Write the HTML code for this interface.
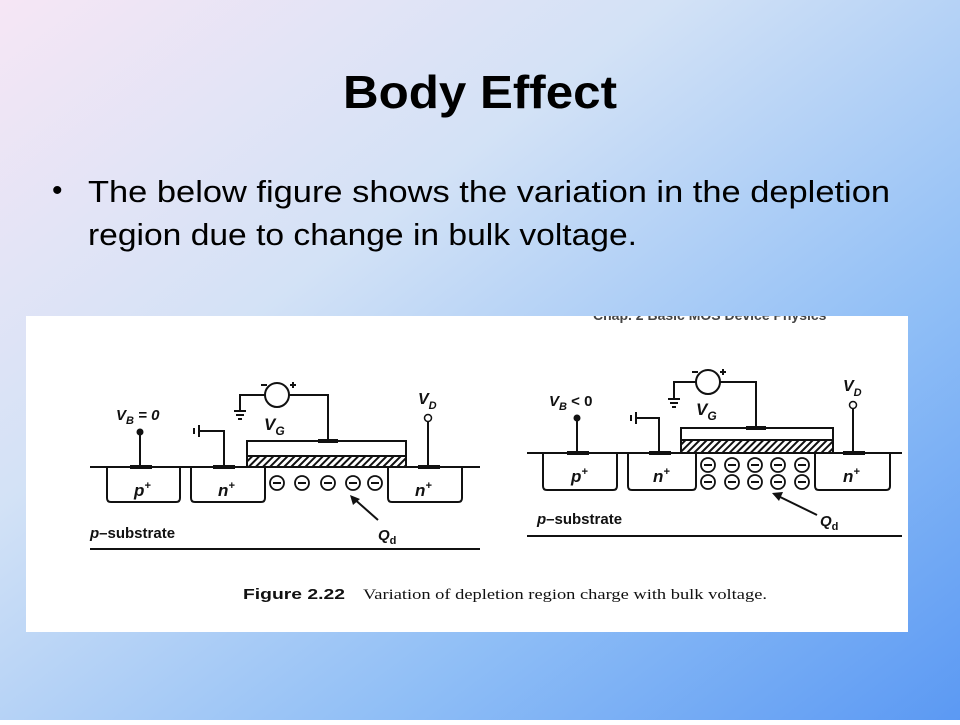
<!DOCTYPE html>
<html><head><meta charset="utf-8"><style>
body{margin:0;width:960px;height:720px;overflow:hidden;}
</style></head><body>
<svg width="960" height="720" xmlns="http://www.w3.org/2000/svg" font-family="Liberation Sans, sans-serif">
<defs>
<linearGradient id="bg" x1="0" y1="0" x2="1" y2="1">
<stop offset="0" stop-color="#f6e6f5"/>
<stop offset="0.35" stop-color="#d3e2f6"/>
<stop offset="0.7" stop-color="#8fbef6"/>
<stop offset="1" stop-color="#5b99f3"/>
</linearGradient>
<pattern id="h" width="5" height="5" patternUnits="userSpaceOnUse" patternTransform="rotate(45)">
<rect width="5" height="5" fill="#fff"/><rect width="2" height="5" fill="#111"/>
</pattern>
<clipPath id="pc"><rect x="26" y="316" width="882" height="316"/></clipPath>
</defs>
<rect width="960" height="720" fill="url(#bg)"/>
<text x="343" y="108" textLength="274" lengthAdjust="spacingAndGlyphs" font-size="46" font-weight="bold" fill="#000">Body Effect</text>
<text x="52" y="200" font-size="30" fill="#000">•</text>
<text x="88" y="202" textLength="802" lengthAdjust="spacingAndGlyphs" font-size="31" fill="#000">The below figure shows the variation in the depletion</text>
<text x="88" y="245" textLength="549" lengthAdjust="spacingAndGlyphs" font-size="31" fill="#000">region due to change in bulk voltage.</text>
<rect x="26" y="316" width="882" height="316" fill="#fff"/>
<text x="593" y="320" font-size="14" font-weight="bold" fill="#444" clip-path="url(#pc)">Chap. 2      Basic MOS Device Physics</text>
<g stroke="#111" stroke-width="2" fill="none">
<line x1="90" y1="467" x2="480" y2="467"/>
<path d="M107 467V498q0 4 4 4H176q4 0 4-4V467"/>
<path d="M191 467V498q0 4 4 4H261q4 0 4-4V467"/>
<path d="M388 467V498q0 4 4 4H458q4 0 4-4V467"/>
<rect x="247" y="441" width="159" height="15" fill="#fff"/>
<rect x="247" y="456" width="159" height="11" fill="url(#h)"/>
<path d="M328 441V395H289M265 395H240V410"/>
<circle cx="277" cy="395" r="12" fill="#fff"/>
<path d="M234 411h12M236 415h8M238 419h4"/>
<line x1="140" y1="432" x2="140" y2="467"/>
<path d="M199 431H224V467M199 425v12M194 428v6"/>
<line x1="428" y1="422" x2="428" y2="467"/>
<line x1="90" y1="549" x2="480" y2="549"/>
<line x1="378" y1="520" x2="352" y2="497"/>
<line x1="527" y1="453" x2="902" y2="453"/>
<path d="M543 453V486q0 4 4 4H613q4 0 4-4V453"/>
<path d="M628 453V486q0 4 4 4H692q4 0 4-4V453"/>
<path d="M815 453V486q0 4 4 4H886q4 0 4-4V453"/>
<rect x="681" y="428" width="152" height="12" fill="#fff"/>
<rect x="681" y="440" width="152" height="13" fill="url(#h)"/>
<path d="M756 428V382H720M696 382H674V398"/>
<circle cx="708" cy="382" r="12" fill="#fff"/>
<path d="M668 399h12M670 403h8M672 407h4"/>
<line x1="577" y1="418" x2="577" y2="453"/>
<path d="M636 418H659V453M636 412v12M631 415v6"/>
<line x1="853" y1="409" x2="853" y2="453"/>
<line x1="527" y1="536" x2="902" y2="536"/>
<line x1="817" y1="515" x2="774" y2="494"/>
</g>
<g fill="#111">
<circle cx="140" cy="432" r="3.5"/><circle cx="577" cy="418" r="3.5"/>
<rect x="130" y="465" width="22" height="4"/><rect x="213" y="465" width="22" height="4"/><rect x="418" y="465" width="22" height="4"/><rect x="318" y="439" width="20" height="4"/>
<rect x="567" y="451" width="22" height="4"/><rect x="649" y="451" width="22" height="4"/><rect x="843" y="451" width="22" height="4"/><rect x="746" y="426" width="20" height="4"/>
<polygon points="350,495 353,505 360,499"/>
<polygon points="772,493 779,501 783,492"/>
</g>
<circle cx="428" cy="418" r="3.5" fill="#fff" stroke="#111" stroke-width="1.5"/>
<circle cx="853" cy="405" r="3.5" fill="#fff" stroke="#111" stroke-width="1.5"/>
<g fill="#fff" stroke="#111" stroke-width="1.8">
<circle cx="277" cy="483" r="7"/><circle cx="302" cy="483" r="7"/><circle cx="328" cy="483" r="7"/><circle cx="353" cy="483" r="7"/><circle cx="375" cy="483" r="7"/>
<circle cx="708" cy="465" r="7"/><circle cx="732" cy="465" r="7"/><circle cx="755" cy="465" r="7"/><circle cx="778" cy="465" r="7"/><circle cx="802" cy="465" r="7"/>
<circle cx="708" cy="482" r="7"/><circle cx="732" cy="482" r="7"/><circle cx="755" cy="482" r="7"/><circle cx="778" cy="482" r="7"/><circle cx="802" cy="482" r="7"/>
</g>
<g stroke="#111" stroke-width="2">
<path d="M273 483h8M298 483h8M324 483h8M349 483h8M371 483h8"/>
<path d="M704 465h8M728 465h8M751 465h8M774 465h8M798 465h8M704 482h8M728 482h8M751 482h8M774 482h8M798 482h8"/>
<path d="M261 385h6M290 385h6M293 382v6M692 372h6M720 372h6M723 369v6"/>
</g>
<g fill="#111" font-weight="bold" font-style="italic" font-size="15">
<text x="116" y="420">V<tspan font-size="11" dy="4">B</tspan><tspan dy="-4"> = 0</tspan></text>
<text x="264" y="430" font-size="17">V<tspan font-size="12" dy="5">G</tspan></text>
<text x="418" y="404" font-size="16">V<tspan font-size="11" dy="5">D</tspan></text>
<text x="134" y="496" font-size="17">p<tspan font-size="11" dy="-7">+</tspan></text>
<text x="218" y="496" font-size="17">n<tspan font-size="11" dy="-7">+</tspan></text>
<text x="415" y="496" font-size="17">n<tspan font-size="11" dy="-7">+</tspan></text>
<text x="90" y="538">p<tspan font-style="normal">–substrate</tspan></text>
<text x="378" y="540">Q<tspan font-size="11" dy="4" font-style="normal">d</tspan></text>
<text x="549" y="406">V<tspan font-size="11" dy="4">B</tspan><tspan dy="-4" font-style="normal"> &lt; 0</tspan></text>
<text x="696" y="415" font-size="17">V<tspan font-size="12" dy="5">G</tspan></text>
<text x="843" y="391" font-size="16">V<tspan font-size="11" dy="5">D</tspan></text>
<text x="571" y="482" font-size="17">p<tspan font-size="11" dy="-7">+</tspan></text>
<text x="653" y="482" font-size="17">n<tspan font-size="11" dy="-7">+</tspan></text>
<text x="843" y="482" font-size="17">n<tspan font-size="11" dy="-7">+</tspan></text>
<text x="537" y="524">p<tspan font-style="normal">–substrate</tspan></text>
<text x="820" y="526">Q<tspan font-size="11" dy="4" font-style="normal">d</tspan></text>
</g>
<text x="243" y="599" textLength="102" lengthAdjust="spacingAndGlyphs" font-size="15" font-weight="bold" fill="#111">Figure 2.22</text>
<text x="363" y="599" textLength="404" lengthAdjust="spacingAndGlyphs" font-size="15" font-family="Liberation Serif, serif" fill="#111">Variation of depletion region charge with bulk voltage.</text>
</svg>
</body></html>
